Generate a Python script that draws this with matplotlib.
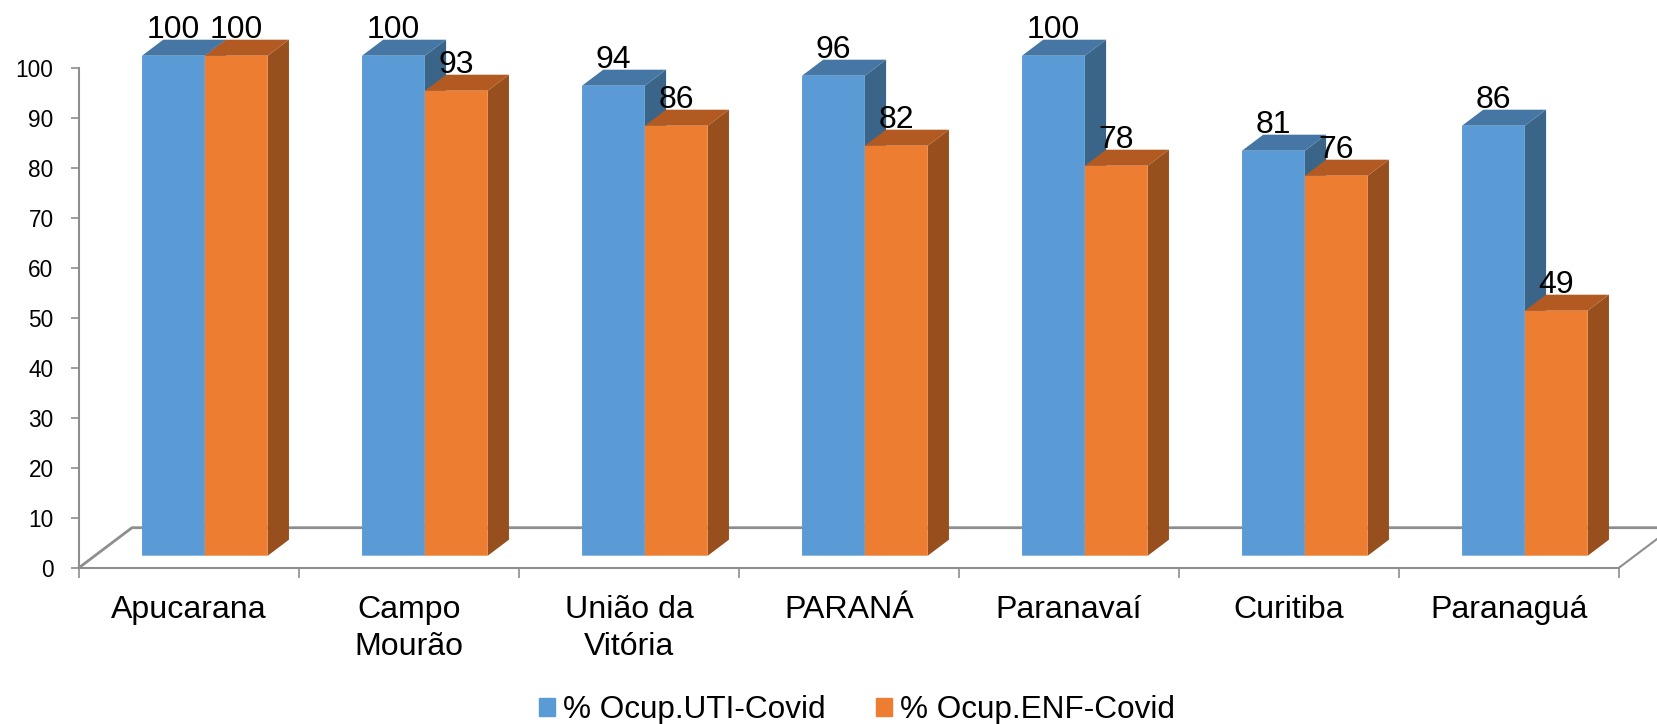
import numpy as np
import matplotlib
matplotlib.use('Agg')
import matplotlib.pyplot as plt
from matplotlib.patches import Patch

categories = ['Apucarana', 'Campo\nMourão', 'União da\nVitória', 'PARANÁ', 'Paranavaí', 'Curitiba', 'Paranaguá']
uti = [100, 100, 94, 96, 100, 81, 86]
enf = [100, 93, 86, 82, 78, 76, 49]
yticks = [0, 10, 20, 30, 40, 50, 60, 70, 80, 90, 100]
series_names = ['% Ocup.UTI-Covid', '% Ocup.ENF-Covid']

# front, top, side
blue = ['#5B9BD5', '#4676A3', '#3A6488']
orange = ['#ED7D31', '#B35A22', '#964F1D']
axis_color = '#8E8E8E'

plt.rcParams['font.family'] = ['Liberation Sans', 'DejaVu Sans']

W, H = 1657, 724
fig = plt.figure(figsize=(W / 100, H / 100), dpi=100)
ax = fig.add_axes([79 / W, (H - 567.7) / H, 1540 / W, 500 / H])
ax.set_xlim(0, 7)
ax.set_ylim(0, 100)

# fake 3d floor depth, in data units (53px right, 40px up)
depth_x = 53 / 220
depth_y = 8
bar_w = 1 / 3.5
d0, d1 = 0.3, 0.7  # bars sit between these depths

ax.plot([0, depth_x, 7 + depth_x], [0, depth_y, depth_y], color=axis_color, lw=2, clip_on=False, zorder=1)
ax.plot([7, 7 + depth_x], [0, depth_y], color=axis_color, lw=1.5, clip_on=False, zorder=1)


def draw_bar(left, value, cols, z):
    x0 = left + d0 * depth_x
    x1 = x0 + bar_w
    base = d0 * depth_y
    top = base + value
    dx = (d1 - d0) * depth_x
    dy = (d1 - d0) * depth_y
    ax.fill([x1, x1 + dx, x1 + dx, x1], [base, base + dy, top + dy, top], color=cols[2], lw=0, clip_on=False, zorder=z)
    ax.fill([x0, x1, x1 + dx, x0 + dx], [top, top, top + dy, top + dy], color=cols[1], lw=0, clip_on=False, zorder=z)
    b = ax.bar(x0, value, bar_w, bottom=base, align='edge', color=cols[0], lw=0, clip_on=False, zorder=z)
    b[0].set_snap(False)
    return (x0 + x1) / 2, top + dy


labels = []
for i in range(len(categories)):
    start = i + 0.75 * bar_w
    labels.append((draw_bar(start, uti[i], blue, 2), uti[i]))
    labels.append((draw_bar(start + bar_w, enf[i], orange, 3), enf[i]))

for (x, y), v in labels:
    ax.text(x, y + 0.4, str(v), ha='center', va='baseline', fontsize=23, color='black', zorder=5, clip_on=False)

for s in ['top', 'right']:
    ax.spines[s].set_visible(False)
for s in ['left', 'bottom']:
    ax.spines[s].set_color(axis_color)
    ax.spines[s].set_linewidth(1.5)

ax.set_yticks(yticks)
ax.tick_params(axis='y', length=5.8, width=1.2, color=axis_color, labelsize=16.3, pad=12.5)
ax.set_xticks(range(8))
ax.set_xticklabels([])
ax.tick_params(axis='x', which='major', length=7.2, width=1.2, color=axis_color)
ax.set_xticks(np.arange(7) + 0.5, minor=True)
ax.set_xticklabels(categories, minor=True, fontsize=23.1, linespacing=1.3)
ax.tick_params(axis='x', which='minor', length=0, pad=19.5)

handles = [Patch(color=blue[0], label=series_names[0]), Patch(color=orange[0], label=series_names[1])]
fig.legend(handles=handles, loc='center', bbox_to_anchor=(857 / W, (H - 710) / H), ncol=2, frameon=False,
           fontsize=22.7, handlelength=0.51, handleheight=0.51, handletextpad=0.25, columnspacing=1.6,
           borderpad=0, borderaxespad=0)

fig.savefig('out.png', dpi=100)
